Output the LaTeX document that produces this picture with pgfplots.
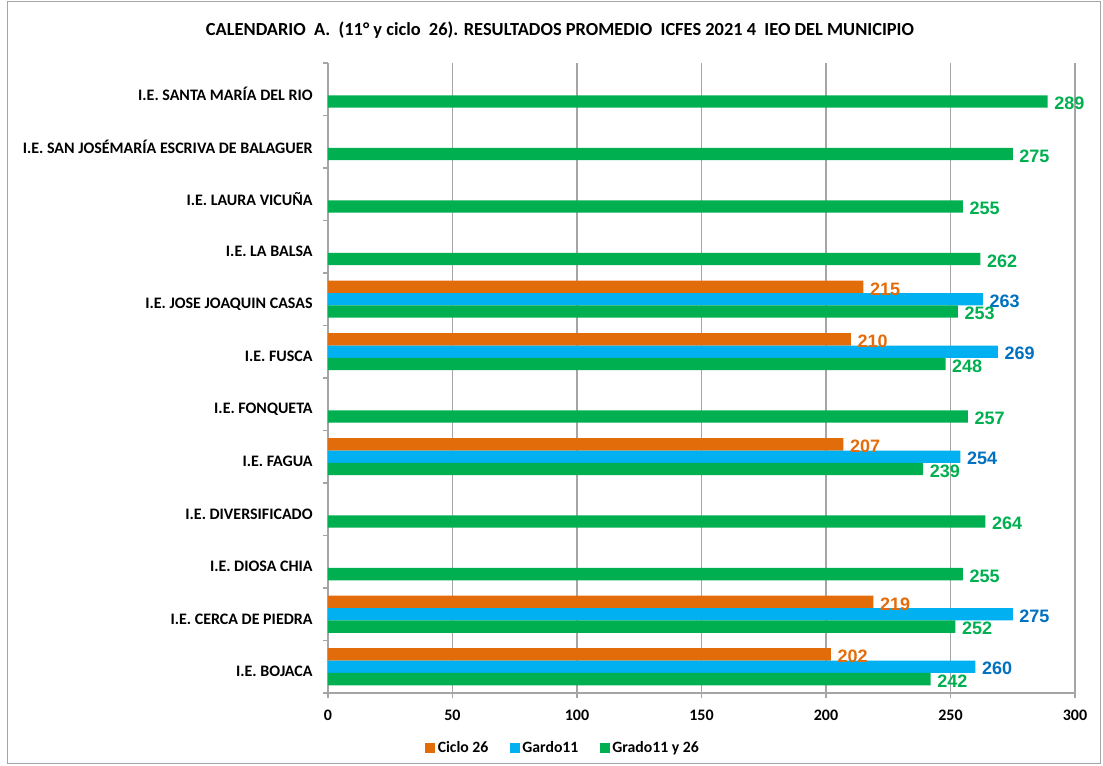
\documentclass[border=0pt]{standalone}
\usepackage{fontspec}
\setmainfont{Carlito}
\newfontfamily\arialfont{Liberation Sans}
\usepackage{pgfplots}
\pgfplotsset{compat=1.18}

\definecolor{cOrange}{RGB}{227,108,10}
\definecolor{cBlue}{RGB}{0,176,240}
\definecolor{cGreen}{RGB}{0,176,80}
\definecolor{lOrange}{RGB}{228,108,10}
\definecolor{lBlue}{RGB}{0,112,192}
\definecolor{lGreen}{RGB}{0,176,80}
\definecolor{gridgray}{RGB}{165,165,165}

\begin{document}
\begin{tikzpicture}
\path[use as bounding box] (-246pt,-54.75pt) rectangle (581.25pt,519.75pt);
\draw[gridgray, line width=0.7pt] (-240.75pt,-52.5pt) rectangle (579pt,519pt);
\node[font=\bfseries\fontsize{13.8}{16}\selectfont] at (174pt,497.5pt)
  {CALENDARIO\ \ A.\ \ (11° y ciclo\ \ 26). RESULTADOS PROMEDIO\ \ ICFES 2021 4\ \ IEO DEL MUNICIPIO};

\begin{axis}[
    name=ax, at={(0,0)}, anchor=south west,
    scale only axis,
    width=560.25pt, height=472.5pt,
    xbar,
    bar width=0.235,
    xmin=0, xmax=300,
    ymin=-0.5, ymax=11.5,
    xtick={0,50,...,300},
    ytick={-0.5,0.5,...,11.5},
    yticklabels={},
    extra y ticks={0,...,11},
    extra y tick labels={I.E. BOJACA, I.E. CERCA DE PIEDRA, I.E. DIOSA CHIA,
      I.E. DIVERSIFICADO, I.E. FAGUA, I.E. FONQUETA, I.E. FUSCA,
      I.E. JOSE JOAQUIN CASAS, I.E. LA BALSA, I.E. LAURA VICUÑA,
      I.E. SAN JOSÉMARÍA ESCRIVA DE BALAGUER, I.E. SANTA MARÍA DEL RIO},
    extra y tick style={major tick length=0pt,
      yticklabel style={xshift=-8pt, yshift=-3.5pt}},
    axis lines*=left,
    axis line style={gridgray, line width=0.8pt, -},
    tick style={gridgray, line width=0.8pt},
    tick align=outside,
    major tick length=4pt,
    xmajorgrids,
    grid style={gridgray, line width=0.8pt},
    ticklabel style={font=\bfseries\fontsize{12}{14}\selectfont},
    xticklabel style={yshift=-5pt},
    /pgf/number format/assume math mode=true,
    nodes near coords,
    nodes near coords style={font=\arialfont\bfseries\fontsize{13.5}{15}\selectfont,
      anchor=west, xshift=1.5pt, yshift=-1.5pt},
    legend image code/.code={\fill[#1] (0pt,-3.75pt) rectangle (7.5pt,3.75pt);},
    legend style={at={(0.315,-0.087)}, anchor=center, legend columns=-1, draw=none,
      font=\bfseries\fontsize{11.8}{14}\selectfont,
      /tikz/every even column/.append style={column sep=14pt}},
  ]
  \addplot[fill=cOrange, draw=none, bar shift=0.235,
    nodes near coords style={text=lOrange}]
    coordinates {(202,0) (219,1) (207,4) (210,6) (215,7)};
  \addlegendentry{Ciclo 26}
  \addplot[fill=cBlue, draw=none, bar shift=0,
    nodes near coords style={text=lBlue}]
    coordinates {(260,0) (275,1) (254,4) (269,6) (263,7)};
  \addlegendentry{Gardo11}
  \addplot[fill=cGreen, draw=none, bar shift=-0.235,
    nodes near coords style={text=lGreen}]
    coordinates {(242,0) (252,1) (255,2) (264,3) (239,4) (257,5)
                 (248,6) (253,7) (262,8) (255,9) (275,10) (289,11)};
  \addlegendentry{Grado11 y 26}
\end{axis}
\end{tikzpicture}
\end{document}
